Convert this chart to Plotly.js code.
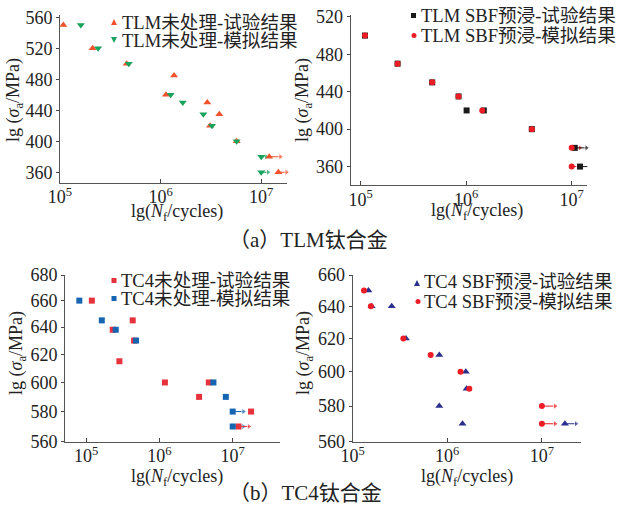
<!DOCTYPE html>
<html>
<head>
<meta charset="utf-8">
<script src="https://cdn.plot.ly/plotly-3.0.1.min.js"></script>
<style>html,body{margin:0;padding:0;background:#fff;}#chart{width:620px;height:506px;}</style>
</head>
<body>
<div id="chart"></div>
<script>
// ---- (a) TLM untreated ----
const tlmExpN = [1.08e5, 2.11e5, 4.6e5, 1.36e6, 1.13e6, 2.91e6, 3.83e6, 3.1e6, 5.7e6, 1.2e7, 1.48e7];
const tlmExpS = [550, 520, 500, 485, 460, 450, 435, 420, 400, 380, 360];
const tlmSimN = [1.61e5, 2.39e5, 4.82e5, 1.26e6, 1.66e6, 2.66e6, 3.24e6, 5.7e6, 1e7, 1e7];
const tlmSimS = [550, 520, 500, 460, 450, 435, 420, 400, 380, 360];
const tlmExpRunStart = [1.2e7, 1.48e7], tlmExpRunEnd = [1.55e7, 1.78e7], tlmExpRunS = [380, 360];
const tlmSimRunStart = [1e7, 1e7], tlmSimRunEnd = [1.12e7, 1.17e7], tlmSimRunS = [380, 360];

// ---- (a) TLM SBF pre-immersed ----
const sbfExpN = [1.1e5, 2.24e5, 4.77e5, 8.47e5, 1.01e6, 1.47e6, 4.19e6, 1.07e7, 1.2e7];
const sbfExpS = [500, 470, 450, 435, 420, 420, 400, 380, 360];
const sbfSimN = [1.1e5, 2.24e5, 4.77e5, 8.47e5, 1.42e6, 4.19e6, 1e7, 1e7];
const sbfSimS = [500, 470, 450, 435, 420, 400, 380, 360];
const sbfExpRunStart = [1.07e7, 1.2e7], sbfExpRunEnd = [1.38e7, 1.48e7], sbfExpRunS = [380, 360];
const sbfSimRunStart = [1e7, 1e7], sbfSimRunEnd = [1.2e7, 1.15e7], sbfSimRunS = [380, 360];

// ---- (b) TC4 untreated ----
const tc4ExpN = [1.2e5, 4.33e5, 2.31e5, 4.52e5, 2.85e5, 1.19e6, 4.72e6, 3.48e6, 1.78e7, 1.2e7];
const tc4ExpS = [660, 645, 638, 630, 615, 600, 600, 590, 580, 570];
const tc4SimN = [8.1e4, 1.64e5, 2.54e5, 4.81e5, 5.46e6, 8.05e6, 1e7, 1e7];
const tc4SimS = [660, 645, 638, 630, 600, 590, 580, 570];
const tc4ExpRunStart = [1.2e7], tc4ExpRunEnd = [1.66e7], tc4ExpRunS = [570];
const tc4SimRunStart = [1e7, 1e7], tc4SimRunEnd = [1.4e7, 1.4e7], tc4SimRunS = [580, 570];

// ---- (b) TC4 SBF pre-immersed ----
const tsbExpN = [1.47e5, 1.59e5, 2.59e5, 3.66e5, 8.24e5, 1.57e6, 1.6e6, 8.24e5, 1.45e6, 1.75e7];
const tsbExpS = [650, 640, 640, 620, 610, 600, 590, 580, 570, 570];
const tsbSimN = [1.32e5, 1.56e5, 3.44e5, 6.68e5, 1.38e6, 1.71e6, 1e7, 1e7];
const tsbSimS = [650, 640, 620, 610, 600, 590, 580, 570];
const tsbExpRunStart = [1.75e7], tsbExpRunEnd = [2.29e7], tsbExpRunS = [570];
const tsbSimRunStart = [1e7, 1e7], tsbSimRunEnd = [1.38e7, 1.38e7], tsbSimRunS = [580, 570];

const xTickVals = [1e5, 1e6, 1e7];
const xTickText = ['10<sup>5</sup>', '10<sup>6</sup>', '10<sup>7</sup>'];
const yTicksA = [360, 400, 440, 480, 520, 560];
const yTicksA2 = [360, 400, 440, 480, 520];
const yTicksB = [560, 580, 600, 620, 640, 660, 680];
const yTicksB2 = [560, 580, 600, 620, 640, 660];

const legendNames = {
  tlmExp: 'TLM未处理-试验结果', tlmSim: 'TLM未处理-模拟结果',
  sbfExp: 'TLM SBF预浸-试验结果', sbfSim: 'TLM SBF预浸-模拟结果',
  tc4Exp: 'TC4未处理-试验结果', tc4Sim: 'TC4未处理-模拟结果',
  tsbExp: 'TC4 SBF预浸-试验结果', tsbSim: 'TC4 SBF预浸-模拟结果'
};
const captions = ['（a）TLM钛合金', '（b）TC4钛合金'];

const SERIF = 'Liberation Serif, Times New Roman, Noto Sans CJK SC, serif';

function pts(x, y, xa, ya, name, color, symbol, size) {
  return {type: 'scatter', mode: 'markers', x: x, y: y, xaxis: xa, yaxis: ya, name: name,
    showlegend: false, cliponaxis: false,
    marker: {color: color, symbol: symbol, size: size, line: {width: 0}}};
}
function arrows(starts, ends, ys, xa, ya, color) {
  const x = [], y = [], s = [];
  for (let i = 0; i < starts.length; i++) {
    x.push(starts[i], ends[i], null); y.push(ys[i], ys[i], null); s.push(0, 6, 0);
  }
  return {type: 'scatter', mode: 'lines+markers', x: x, y: y, xaxis: xa, yaxis: ya,
    showlegend: false, hoverinfo: 'skip', cliponaxis: false,
    line: {color: color, width: 1}, marker: {color: color, symbol: 'triangle-right', size: s}};
}

const cTlmExp = '#f0522d', cTlmSim = '#17a35b', cSbfExp = '#1a1a1a', cRed = '#ee1d25';
const cTc4Exp = '#e6323c', cTc4Sim = '#1565b0', cTsbExp = '#2a2f8e';

const data = [
  arrows(tlmSimRunStart, tlmSimRunEnd, tlmSimRunS, 'x', 'y', cTlmSim),
  arrows(tlmExpRunStart, tlmExpRunEnd, tlmExpRunS, 'x', 'y', cTlmExp),
  pts(tlmExpN, tlmExpS, 'x', 'y', legendNames.tlmExp, cTlmExp, 'triangle-up', 7),
  pts(tlmSimN, tlmSimS, 'x', 'y', legendNames.tlmSim, cTlmSim, 'triangle-down', 7),

  arrows(sbfSimRunStart, sbfSimRunEnd, sbfSimRunS, 'x2', 'y2', cRed),
  arrows(sbfExpRunStart, sbfExpRunEnd, sbfExpRunS, 'x2', 'y2', cSbfExp),
  pts(sbfExpN, sbfExpS, 'x2', 'y2', legendNames.sbfExp, cSbfExp, 'square', 6),
  pts(sbfSimN, sbfSimS, 'x2', 'y2', legendNames.sbfSim, cRed, 'circle', 6),

  arrows(tc4SimRunStart, tc4SimRunEnd, tc4SimRunS, 'x3', 'y3', cTc4Sim),
  arrows(tc4ExpRunStart, tc4ExpRunEnd, tc4ExpRunS, 'x3', 'y3', cTc4Exp),
  pts(tc4ExpN, tc4ExpS, 'x3', 'y3', legendNames.tc4Exp, cTc4Exp, 'square', 6),
  pts(tc4SimN, tc4SimS, 'x3', 'y3', legendNames.tc4Sim, cTc4Sim, 'square', 6),

  arrows(tsbSimRunStart, tsbSimRunEnd, tsbSimRunS, 'x4', 'y4', cRed),
  arrows(tsbExpRunStart, tsbExpRunEnd, tsbExpRunS, 'x4', 'y4', cTsbExp),
  pts(tsbExpN, tsbExpS, 'x4', 'y4', legendNames.tsbExp, cTsbExp, 'triangle-up', 7),
  pts(tsbSimN, tsbSimS, 'x4', 'y4', legendNames.tsbSim, cRed, 'circle', 6)
];

const W = 620, H = 506;
const px = v => v / W, py = v => 1 - v / H;
const tickFont = {family: SERIF, size: 18, color: '#222'};
function xax(d0, d1, r, anchor) {
  return {type: 'log', domain: [px(d0), px(d1)], range: r, anchor: anchor,
    tickvals: xTickVals, ticktext: xTickText, ticks: 'inside', ticklen: 4, tickcolor: '#444',
    showline: true, linecolor: '#555', linewidth: 1, showgrid: false, zeroline: false,
    tickfont: tickFont, ticklabelstandoff: -2, mirror: false, fixedrange: true};
}
function yax(t, b, r, vals, type, anchor) {
  return {type: type, domain: [py(b), py(t)], range: r, anchor: anchor,
    tickvals: vals, ticks: 'outside', ticklen: 3, tickcolor: '#444',
    showline: true, linecolor: '#555', linewidth: 1, showgrid: false, zeroline: false,
    tickfont: tickFont, fixedrange: true};
}
function ann(text, x, y, angle, size, xanchor) {
  return {text: text, x: px(x), y: py(y), xref: 'paper', yref: 'paper', showarrow: false,
    textangle: angle || 0, xanchor: xanchor || 'center', yanchor: 'middle',
    font: {family: SERIF, size: size || 18, color: '#222'}};
}
// legend symbols drawn as paper-space shapes (marker sits right next to its label, as in the figure)
function sym(kind, cx, cy, s, color) {
  const X = v => px(v), Y = v => py(v), h = s / 2;
  let path;
  if (kind === 'up') path = `M${X(cx - h)},${Y(cy + h)} L${X(cx + h)},${Y(cy + h)} L${X(cx)},${Y(cy - h)} Z`;
  else if (kind === 'down') path = `M${X(cx - h)},${Y(cy - h)} L${X(cx + h)},${Y(cy - h)} L${X(cx)},${Y(cy + h)} Z`;
  if (kind === 'square')
    return {type: 'rect', xref: 'paper', yref: 'paper', x0: X(cx - h), x1: X(cx + h), y0: Y(cy + h), y1: Y(cy - h),
      fillcolor: color, line: {width: 0}};
  if (kind === 'circle')
    return {type: 'circle', xref: 'paper', yref: 'paper', x0: X(cx - h), x1: X(cx + h), y0: Y(cy + h), y1: Y(cy - h),
      fillcolor: color, line: {width: 0}};
  return {type: 'path', xref: 'paper', yref: 'paper', path: path, fillcolor: color, line: {width: 0}};
}
const yTitle = 'lg (<i>σ</i><sub>a</sub>/MPa)';
const xTitle = 'lg(<i>N</i><sub>f</sub>/cycles)';
const LF = 18.6;

const layout = {
  width: W, height: H, margin: {l: 0, r: 0, t: 0, b: 0},
  paper_bgcolor: '#fff', plot_bgcolor: 'rgba(0,0,0,0)', showlegend: false,
  xaxis: xax(60, 287, [5, 7.256], 'y'),
  yaxis: yax(15, 182.7, [346.5, 563], yTicksA, 'linear', 'x'),
  xaxis2: xax(350.7, 587.3, [4.906, 7.148], 'y2'),
  yaxis2: yax(15, 185.3, [340, 522], yTicksA2, 'linear', 'x2'),
  xaxis3: xax(65, 280, [4.713, 7.645], 'y3'),
  yaxis3: yax(275, 441.7, [Math.log10(560), Math.log10(680)], yTicksB, 'log', 'x3'),
  xaxis4: xax(352.6, 580.7, [5, 7.41], 'y4'),
  yaxis4: yax(275, 441.7, [Math.log10(560), Math.log10(660)], yTicksB2, 'log', 'x4'),
  shapes: [
    sym('up', 114, 22, 6, cTlmExp), sym('down', 114, 40, 6, cTlmSim),
    sym('square', 413.5, 15.5, 5, cSbfExp), sym('circle', 414, 35.5, 5, cRed),
    sym('square', 114, 280.5, 5, cTc4Exp), sym('square', 114, 298.5, 5, cTc4Sim),
    sym('up', 417, 283, 6, cTsbExp), sym('circle', 418, 301.5, 5, cRed)
  ],
  annotations: [
    ann(legendNames.tlmExp, 120, 22.5, 0, LF, 'left'), ann(legendNames.tlmSim, 120, 40.5, 0, LF, 'left'),
    ann(legendNames.sbfExp, 419, 15.5, 0, LF, 'left'), ann(legendNames.sbfSim, 419, 35.5, 0, LF, 'left'),
    ann(legendNames.tc4Exp, 119, 280.5, 0, LF, 'left'), ann(legendNames.tc4Sim, 119, 298.5, 0, LF, 'left'),
    ann(legendNames.tsbExp, 422, 281.5, 0, LF, 'left'), ann(legendNames.tsbSim, 422, 301.5, 0, LF, 'left'),
    ann(yTitle, 15, 100, -90), ann(yTitle, 304, 100, -90),
    ann(yTitle, 17, 353, -90), ann(yTitle, 304, 353, -90),
    ann(xTitle, 177, 212), ann(xTitle, 477, 211),
    ann(xTitle, 177, 477), ann(xTitle, 467, 477),
    ann(captions[0], 308, 240, 0, 21),
    ann(captions[1], 305, 493, 0, 21)
  ]
};

Plotly.newPlot('chart', data, layout, {displayModeBar: false, staticPlot: true});
</script>
</body>
</html>
